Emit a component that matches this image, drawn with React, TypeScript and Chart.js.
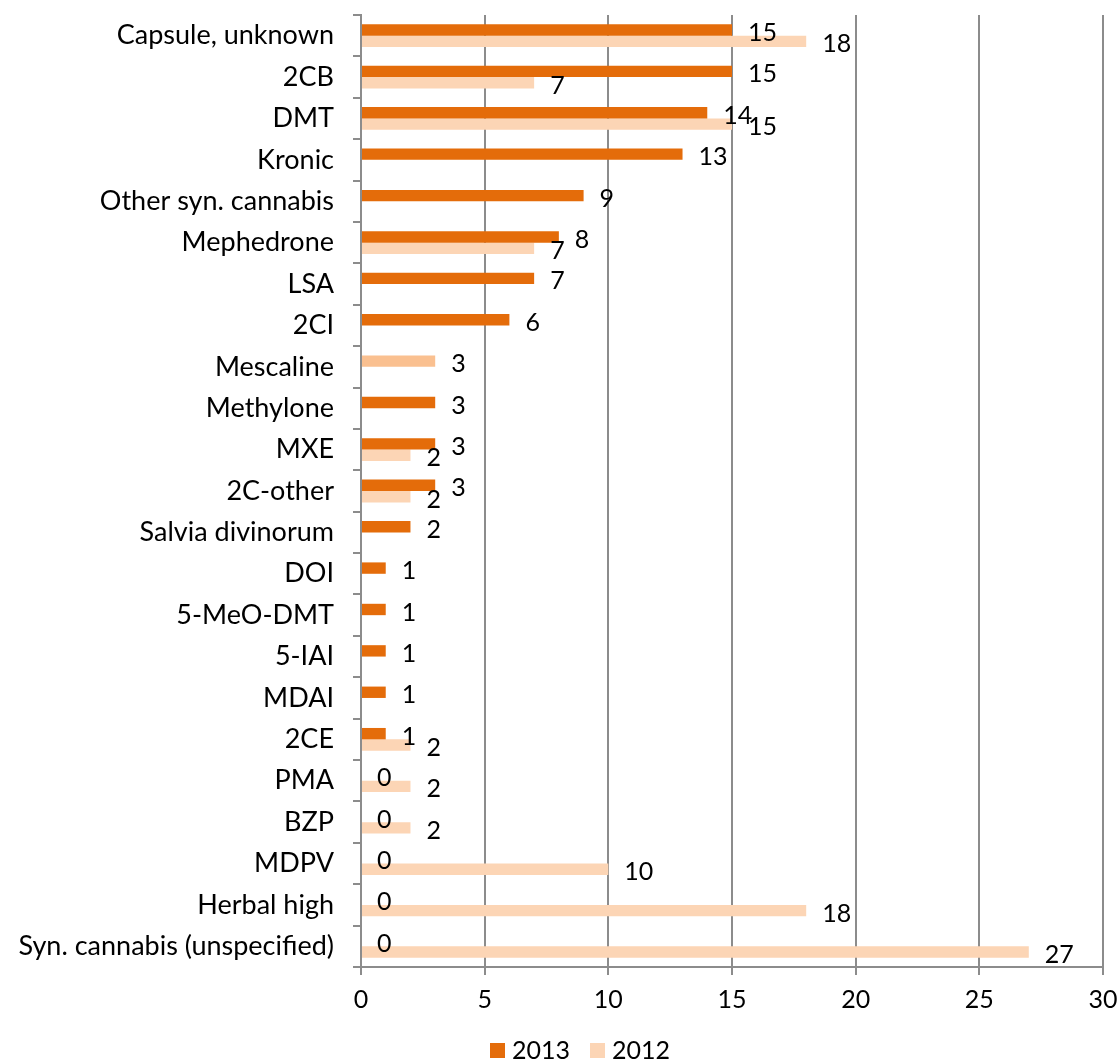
import React, { useEffect, useRef } from "react";
import { Chart, registerables } from "chart.js";

Chart.register(...registerables);

const categories = [
  "Capsule, unknown",
  "2CB",
  "DMT",
  "Kronic",
  "Other syn. cannabis",
  "Mephedrone",
  "LSA",
  "2CI",
  "Mescaline",
  "Methylone",
  "MXE",
  "2C-other",
  "Salvia divinorum",
  "DOI",
  "5-MeO-DMT",
  "5-IAI",
  "MDAI",
  "2CE",
  "PMA",
  "BZP",
  "MDPV",
  "Herbal high",
  "Syn. cannabis (unspecified)",
];

const values2013: (number | null)[] = [15, 15, 14, 13, 9, 8, 7, 6, 3, 3, 3, 3, 2, 1, 1, 1, 1, 1, 0, 0, 0, 0, 0];
const values2012: (number | null)[] = [18, 7, 15, null, null, 7, null, null, null, null, 2, 2, null, null, null, null, null, 2, 2, 2, 10, 18, 27];

const seriesNames = ["2013", "2012"];
const xTickMin = 0;
const xTickMax = 30;
const xTickStep = 5;

const COLOR_2013 = "#E46C0A";
const COLOR_2012 = "#FCD5B5";
const COLOR_HIGHLIGHT = "#FAC090";
const GRID = "#8c8c8c";
const FONT = "Lato, sans-serif";

const dataLabelPlugin = {
  id: "dataLabels",
  afterDatasetsDraw(chart: any) {
    const ctx = chart.ctx;
    ctx.save();
    ctx.font = `25px ${FONT}`;
    ctx.fillStyle = "#000";
    ctx.textAlign = "left";
    ctx.textBaseline = "middle";
    chart.data.datasets.forEach((ds: any, di: number) => {
      const meta = chart.getDatasetMeta(di);
      meta.data.forEach((el: any, i: number) => {
        const v = ds.data[i];
        if (v === null || v === undefined) return;
        ctx.fillText(String(v), el.x + 16, el.y + 3);
      });
    });
    ctx.restore();
  },
};

const legendPlugin = {
  id: "customLegend",
  afterDraw(chart: any) {
    const ctx = chart.ctx;
    ctx.save();
    ctx.font = `25px ${FONT}`;
    ctx.textBaseline = "middle";
    ctx.textAlign = "left";
    const colors = [COLOR_2013, COLOR_2012];
    const y = 1051;
    let x = 490;
    seriesNames.forEach((name, i) => {
      ctx.fillStyle = colors[i];
      ctx.fillRect(x, y - 8, 15, 15);
      ctx.fillStyle = "#000";
      ctx.fillText(name, x + 22, y);
      x += 22 + ctx.measureText(name).width + 20;
    });
    ctx.restore();
  },
};

export default function App() {
  const ref = useRef<HTMLCanvasElement | null>(null);

  useEffect(() => {
    document.body.style.margin = "0";
    const canvas = ref.current;
    if (!canvas) return;
    const colors2013 = categories.map((c) => (c === "Mescaline" ? COLOR_HIGHLIGHT : COLOR_2013));
    const chart = new Chart(canvas, {
      type: "bar",
      data: {
        labels: categories,
        datasets: [
          {
            label: seriesNames[0],
            data: values2013,
            backgroundColor: colors2013,
            categoryPercentage: 0.55,
            barPercentage: 1.0,
          },
          {
            label: seriesNames[1],
            data: values2012,
            backgroundColor: COLOR_2012,
            categoryPercentage: 0.55,
            barPercentage: 1.0,
          },
        ],
      },
      options: {
        indexAxis: "y",
        responsive: false,
        animation: false,
        layout: { padding: { left: 0, right: 16, top: 15, bottom: 0 } },
        plugins: {
          legend: { display: false },
          tooltip: { enabled: false },
        },
        scales: {
          x: {
            min: xTickMin,
            max: xTickMax,
            ticks: {
              stepSize: xTickStep,
              color: "#000",
              font: { family: FONT, size: 25 },
              padding: 10,
            },
            grid: {
              color: GRID,
              lineWidth: 2,
              tickLength: 8,
              drawTicks: true,
            },
            border: { display: true, color: GRID, width: 2 },
            afterFit: (s: any) => {
              s.height = 96;
              s.paddingLeft = 0;
              s.paddingRight = 0;
            },
          },
          y: {
            ticks: {
              color: "#000",
              font: { family: FONT, size: 27 },
              padding: 19,
              autoSkip: false,
            },
            grid: {
              offset: true,
              drawOnChartArea: false,
              color: GRID,
              lineWidth: 2,
              tickLength: 8,
            },
            border: { display: true, color: GRID, width: 2 },
            afterFit: (s: any) => {
              s.width = 361;
              s.paddingTop = 0;
              s.paddingBottom = 0;
            },
          },
        },
      },
      plugins: [dataLabelPlugin, legendPlugin],
    });
    return () => chart.destroy();
  }, []);

  return (
    <div style={{ width: 1119, height: 1063, background: "#fff" }}>
      <canvas ref={ref} width={1119} height={1063} style={{ display: "block" }} />
    </div>
  );
}
